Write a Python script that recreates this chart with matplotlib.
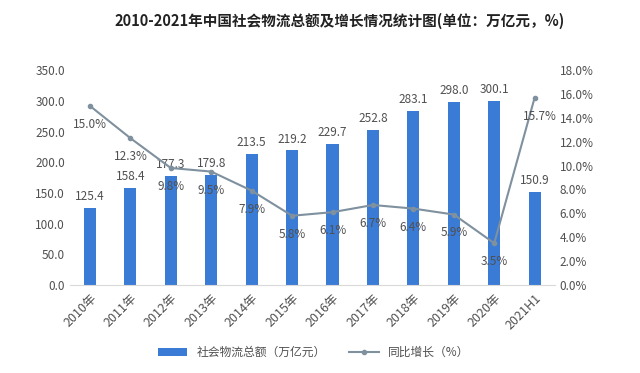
import matplotlib
matplotlib.use('Agg')
import matplotlib.pyplot as plt
import numpy as np

plt.rcParams['font.family'] = ['Noto Sans CJK SC', 'DejaVu Sans']

years = ['2010年', '2011年', '2012年', '2013年', '2014年', '2015年',
         '2016年', '2017年', '2018年', '2019年', '2020年', '2021H1']
total = [125.4, 158.4, 177.3, 179.8, 213.5, 219.2, 229.7, 252.8, 283.1, 298.0, 300.1, 150.9]
growth = [15.0, 12.3, 9.8, 9.5, 7.9, 5.8, 6.1, 6.7, 6.4, 5.9, 3.5, 15.7]

bar_color = '#3a7bd5'
line_color = '#7f909e'
txt = '#505050'

fig = plt.figure(figsize=(6.4, 3.73), dpi=100)
ax = fig.add_axes([0.109, 0.236, 0.758, 0.576])
x = np.arange(len(years))

bars = ax.bar(x, total, width=0.3, color=bar_color, label='社会物流总额（万亿元）', zorder=2)
ax.set_ylim(0, 350)
ax.set_yticks(np.arange(0, 351, 50))
ax.set_yticklabels([f'{v:.1f}' for v in np.arange(0, 351, 50)])
ax.set_xlim(-0.5, len(years) - 0.5)
ax.set_xticks(x)
ax.set_xticklabels(years, rotation=45, ha='right', rotation_mode='anchor')
for v, xi in zip(total, x):
    ax.text(xi, v + 8, f'{v:.1f}', ha='center', va='bottom', fontsize=8.5, color=txt)

for s in ['top', 'right', 'left']:
    ax.spines[s].set_visible(False)
ax.spines['bottom'].set_color('#d9d9d9')
ax.tick_params(axis='y', length=0, labelsize=8.5, colors=txt)
ax.tick_params(axis='x', length=0, labelsize=9, colors=txt, pad=5)

ax2 = ax.twinx()
ax2.plot(x, growth, color=line_color, lw=1.5, marker='o', ms=3, label='同比增长（%）', zorder=3)
ax2.set_ylim(0, 18)
ax2.set_yticks(np.arange(0, 19, 2))
ax2.set_yticklabels([f'{v:.1f}%' for v in np.arange(0, 19, 2)])
for s in ['top', 'right', 'left', 'bottom']:
    ax2.spines[s].set_visible(False)
ax2.tick_params(axis='y', length=0, labelsize=8.5, colors=txt)
for i, (xi, g) in enumerate(zip(x, growth)):
    dx = 0.12 if i == 11 else 0
    ax2.text(xi + dx, g - 1.0, f'{g:.1f}%', ha='center', va='top', fontsize=8.5, color=txt)

fig.suptitle('2010-2021年中国社会物流总额及增长情况统计图(单位：万亿元，%)',
             x=0.53, y=0.965, fontsize=10.5, fontweight='bold', color='#222222')

h1, l1 = ax.get_legend_handles_labels()
h2, l2 = ax2.get_legend_handles_labels()
fig.legend(h1 + h2, l1 + l2, loc='center', bbox_to_anchor=(0.49, 0.055), ncol=2,
           frameon=False, fontsize=8.5, labelcolor=txt, handlelength=2.5, columnspacing=2)

fig.savefig('out.png', dpi=100)
